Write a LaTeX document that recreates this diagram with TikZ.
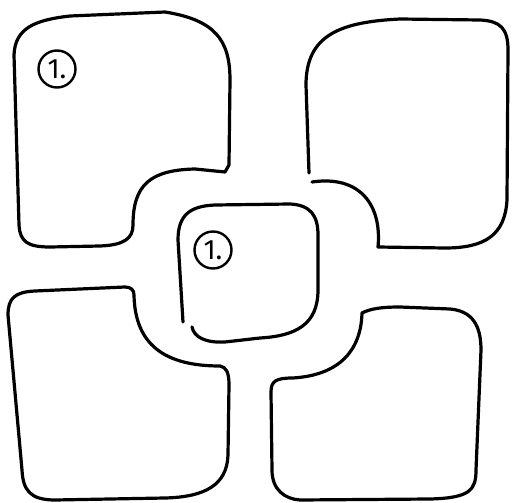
\documentclass[tikz,border=0pt]{standalone}
\usepackage{fontspec}
\setsansfont{Fira Sans}
\begin{document}
\begin{tikzpicture}[x=1pt,y=-1pt,
  blob/.style={line width=3.2pt,line join=round,line cap=round},
  numc/.style={circle,draw,line width=2.4pt,minimum size=37pt,inner sep=0pt,
    font=\sffamily\fontsize{28}{30}\selectfont}]
\useasboundingbox (0,0) rectangle (512,503);
% top-left
\draw[blob] (225,172) -- (229,165) -- (230,80) .. controls (230,40) and (215,20) .. (165,12)
  -- (70,16) .. controls (35,20) and (15,28) .. (14,55)
  -- (19,225) .. controls (20,242) and (28,247) .. (50,247)
  -- (100,246) .. controls (125,245) and (133,238) .. (133,225)
  .. controls (133,185) and (150,170) .. (195,169) -- cycle;
% top-right
\draw[blob] (309,173) -- (306,85) .. controls (306,35) and (340,22) .. (400,19)
  -- (480,20) .. controls (500,21) and (508,28) .. (508,50)
  -- (507,200) .. controls (505,235) and (485,248) .. (445,248)
  -- (378,247) .. controls (382,205) and (360,175) .. (312,182);
% bottom-left
\draw[blob] (134,295) .. controls (135,345) and (165,366) .. (220,366)
  .. controls (226,367) and (229,372) .. (229,385)
  -- (228,455) .. controls (227,485) and (205,497) .. (165,498)
  -- (55,500) .. controls (30,500) and (23,490) .. (22,470)
  -- (8,315) .. controls (8,298) and (15,292) .. (35,291)
  -- (125,287) .. controls (131,287) and (134,290) .. cycle;
% bottom-right
\draw[blob] (293,378) .. controls (340,375) and (361,350) .. (362,313)
  .. controls (370,309) and (380,307) .. (400,307)
  -- (450,309) .. controls (472,311) and (481,325) .. (481,350)
  -- (476,470) .. controls (476,490) and (470,498) .. (430,499)
  -- (300,500) .. controls (285,499) and (272,490) .. (272,470)
  -- (271,392) .. controls (271,381) and (276,378) .. cycle;
% centre
\draw[blob] (183,322) -- (178,240) .. controls (178,215) and (190,206) .. (215,205)
  -- (290,204) .. controls (310,205) and (318,215) .. (318,235)
  -- (318,290) .. controls (318,325) and (295,336) .. (260,338)
  -- (225,342) .. controls (205,343) and (194,337) .. (192,327);
\node[numc] (n1) at (57,69) {1.};
\node[numc] (n2) at (213,250) {1.};
\end{tikzpicture}
\end{document}
